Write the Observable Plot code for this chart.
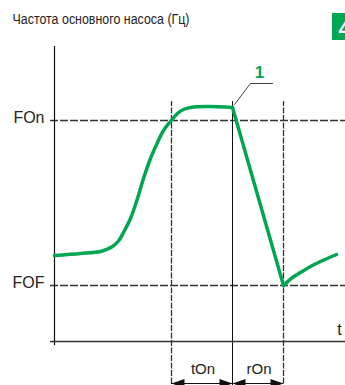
<!DOCTYPE html>
<html>
<head>
<meta charset="utf-8">
<script src="https://cdn.jsdelivr.net/npm/d3@7"></script>
<script src="https://cdn.jsdelivr.net/npm/@observablehq/plot@0.6"></script>
<style>
  html, body { margin: 0; padding: 0; background: #fff; }
  #chart svg { display: block; }
</style>
</head>
<body>
<div id="chart"></div>
<script>
// --- data (time units / frequency units) ---
const titleText = "Частота основного насоса (Гц)";
const badgeText = "4";
const curveT    = [0, 26, 46, 52, 58, 64, 69, 76, 83, 89, 96, 103, 109, 116, 123, 129, 136, 153, 178,
                   178, 229,
                   229, 238, 246, 256, 266, 282];
const curveF    = [86, 88, 90, 92, 95, 100.5, 109, 123, 143, 163, 183, 199, 211, 220, 228, 232, 234, 235, 234,
                   234, 56,
                   56, 64, 69, 75, 80, 87];
const curvePart = ["rise","rise","rise","rise","rise","rise","rise","rise","rise","rise","rise","rise","rise","rise","rise","rise","rise","rise","rise",
                   "ramp","ramp",
                   "recover","recover","recover","recover","recover","recover"];
const levelNames  = ["FOn", "FOF"];
const levelValues = [221, 56];
const timeMarks   = [117, 178, 229];          // tOn start, tOn end / rOn start, rOn end
const timeDashed  = [true, false, true];
const spanNames   = ["tOn", "rOn"];
const spanStart   = [117, 178];
const spanEnd     = [178, 229];
const markerLabel = "1";
const axisLabelT  = "t";

// --- build tables ---
const curve = curveT.map((t, i) => ({t, f: curveF[i], part: curvePart[i]}));
const levels = levelNames.map((name, i) => ({name, f: levelValues[i]}));
const times = timeMarks.map((t, i) => ({t, dashed: timeDashed[i]}));
const spans = spanNames.map((name, i) => ({name, a: spanStart[i], b: spanEnd[i]}));

const green = "#00a651";
const ink = "#222";
const font = "'Liberation Sans', Arial, sans-serif";
const arrowY = -42;

const leftHead = {draw(ctx) { ctx.moveTo(0, 0); ctx.lineTo(13, -4.5); ctx.lineTo(13, 4.5); ctx.closePath(); }};
const rightHead = {draw(ctx) { ctx.moveTo(0, 0); ctx.lineTo(-13, -4.5); ctx.lineTo(-13, 4.5); ctx.closePath(); }};

const peak = curve.find(d => d.part === "ramp");

const chart = Plot.plot({
  width: 345,
  height: 385,
  marginLeft: 54,
  marginRight: 0,
  marginTop: 46,
  marginBottom: 44,
  x: {domain: [0, 291], axis: null},
  y: {domain: [0, 295], axis: null},
  style: {fontFamily: font, background: "#fff"},
  marks: [
    // title & badge
    Plot.text([titleText], {x: -42, y: 318, text: d => d, textAnchor: "start", lineAnchor: "bottom",
      fontSize: 14, fill: ink,
      fontFamily: "'Liberation Sans Narrow', 'Arial Narrow', 'Liberation Sans', sans-serif"}),
    Plot.rect([badgeText], {x1: 278, x2: 295, y1: 301, y2: 328, fill: green}),
    Plot.text([badgeText], {x: 284, y: 306, text: d => d, textAnchor: "start", lineAnchor: "bottom",
      fontSize: 22, fontWeight: "bold", fill: "#fff"}),
    // level lines (dashed)
    Plot.ruleY(levels, {y: "f", x1: -4, x2: 291, stroke: "#333", strokeWidth: 1.3, strokeDasharray: "8,2"}),
    Plot.text(levels, {x: -10, y: d => d.f - 2, text: "name", textAnchor: "end", lineAnchor: "bottom", fontSize: 16, fill: ink}),
    // time marks
    Plot.ruleX(times.filter(d => d.dashed), {x: "t", y1: -50, y2: 240, stroke: "#333", strokeWidth: 1.3, strokeDasharray: "6,1.5"}),
    Plot.ruleX(times.filter(d => !d.dashed), {x: "t", y1: -50, y2: 240, stroke: "#111", strokeWidth: 1}),
    // axes
    Plot.ruleX([0], {y1: -4, y2: 295, stroke: "#111", strokeWidth: 1.2}),
    Plot.ruleY([0], {x1: -4, x2: 291, stroke: "#333", strokeWidth: 1.6}),
    Plot.text([axisLabelT], {x: 285, y: 7, text: d => d, textAnchor: "middle", lineAnchor: "bottom", fontSize: 16, fill: ink}),
    // span arrows
    Plot.ruleY(spans, {y: arrowY, x1: "a", x2: "b", stroke: "#111", strokeWidth: 1}),
    Plot.dot(spans, {x: "a", y: arrowY, symbol: leftHead, fill: "#111", stroke: null}),
    Plot.dot(spans, {x: "b", y: arrowY, symbol: rightHead, fill: "#111", stroke: null}),
    Plot.text(spans, {x: d => (d.a + d.b) / 2 + 1, y: -32, text: "name", textAnchor: "middle", lineAnchor: "bottom", fontSize: 15, fill: ink}),
    // leader for marker 1
    Plot.line([[peak.t + 2, peak.f + 3], [196, 258], [218, 258]], {x: d => d[0], y: d => d[1], stroke: "#111", strokeWidth: 0.8}),
    Plot.text([markerLabel], {x: 205, y: 264, text: d => d, textAnchor: "middle", lineAnchor: "bottom",
      fontSize: 17, fontWeight: "bold", fill: green}),
    // curve
    Plot.line(curve.filter(d => d.part !== "ramp"), {x: "t", y: "f", z: "part", curve: "catmull-rom",
      stroke: green, strokeWidth: 3.5, strokeLinejoin: "round", strokeLinecap: "round"}),
    Plot.line(curve.filter(d => d.part === "ramp"), {x: "t", y: "f", stroke: green, strokeWidth: 3.5, strokeLinecap: "round"})
  ]
});
document.getElementById("chart").appendChild(chart);
// condense the title to the reference's width
for (const el of chart.querySelectorAll("text")) {
  if (el.textContent === titleText) {
    el.setAttribute("textLength", "177");
    el.setAttribute("lengthAdjust", "spacingAndGlyphs");
  }
}
</script>
</body>
</html>
